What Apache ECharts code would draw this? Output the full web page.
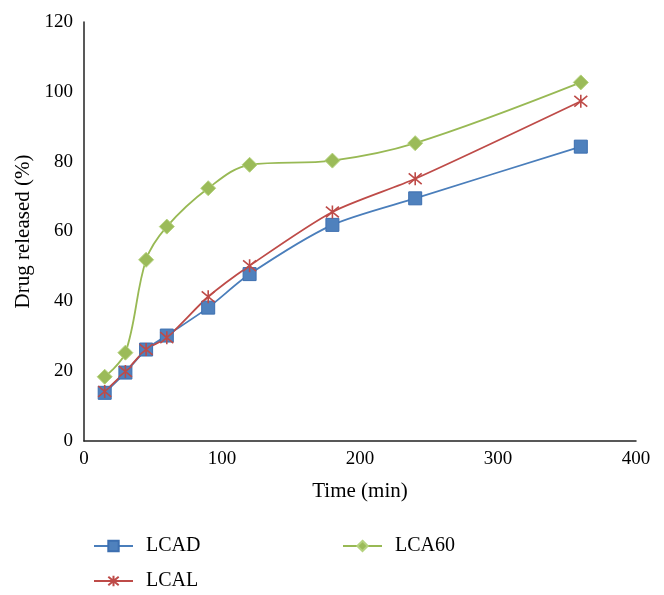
<!DOCTYPE html>
<html>
<head>
<meta charset="utf-8">
<script src="https://cdn.jsdelivr.net/npm/echarts@6/dist/echarts.min.js"></script>
<style>html,body{margin:0;padding:0;background:#fff;}#c{width:664px;height:595px;}</style>
</head>
<body>
<div id="c"></div>
<script>
const times = [15, 30, 45, 60, 90, 120, 180, 240, 360];
const lcad = [13.8, 19.6, 26.2, 30.2, 38.2, 47.8, 61.9, 69.5, 84.3];
const lcal = [14.2, 19.9, 26.2, 29.6, 41.3, 50.2, 65.6, 75.1, 97.3];
const lca60 = [18.4, 25.3, 51.9, 61.4, 72.4, 79.1, 80.3, 85.3, 102.7];
const seriesNames = ['LCAD', 'LCAL', 'LCA60'];

const FONT = '"Liberation Serif", "DejaVu Serif", serif';
const pair = arr => times.map((t, i) => [t, arr[i]]);
const star = 'path://M0,0L10,10M10,0L0,10M5,-1L5,11';

const chart = echarts.init(document.getElementById('c'));
const legendBase = {
  itemWidth: 39, itemHeight: 13, itemGap: 40,
  textStyle: {fontFamily: FONT, fontSize: 20, color: '#000', padding: [0, 0, 0, 8]}
};
chart.setOption({
  animation: false,
  grid: {left: 84, right: 28, top: 22, bottom: 154},
  xAxis: {
    type: 'value', min: 0, max: 400, interval: 100,
    name: 'Time (min)', nameLocation: 'middle', nameGap: 40,
    nameTextStyle: {fontFamily: FONT, fontSize: 21, color: '#000'},
    axisLine: {show: true, onZero: false, lineStyle: {color: '#222', width: 1.5}},
    axisTick: {show: false},
    splitLine: {show: false},
    axisLabel: {fontFamily: FONT, fontSize: 19, color: '#000', margin: 9}
  },
  yAxis: {
    type: 'value', min: 0, max: 120, interval: 20,
    name: 'Drug released (%)', nameLocation: 'middle', nameGap: 49,
    nameTextStyle: {fontFamily: FONT, fontSize: 21, color: '#000'},
    axisLine: {show: true, lineStyle: {color: '#222', width: 1.5}},
    axisTick: {show: false},
    splitLine: {show: false},
    axisLabel: {fontFamily: FONT, fontSize: 19, color: '#000', margin: 11}
  },
  legend: [
    Object.assign({}, legendBase, {data: [seriesNames[0]], left: 88, top: 531}),
    Object.assign({}, legendBase, {data: [seriesNames[2]], left: 337, top: 531}),
    Object.assign({}, legendBase, {data: [seriesNames[1]], left: 88, top: 566})
  ],
  series: [
    {
      name: seriesNames[0], type: 'line', data: pair(lcad), smooth: 0.25,
      symbol: 'rect', symbolSize: 13,
      lineStyle: {color: '#4A7EBB', width: 1.8},
      itemStyle: {color: '#4F81BD', borderColor: '#3D6FB0', borderWidth: 1}
    },
    {
      name: seriesNames[1], type: 'line', data: pair(lcal), smooth: 0.25,
      symbol: star, symbolSize: 13,
      lineStyle: {color: '#BE4B48', width: 1.8},
      itemStyle: {color: '#BE4B48', borderColor: '#BE4B48', borderWidth: 1.6}
    },
    {
      name: seriesNames[2], type: 'line', data: pair(lca60), smooth: 0.35,
      symbol: 'diamond', symbolSize: 15,
      lineStyle: {color: '#98B954', width: 1.8},
      itemStyle: {color: '#9BBB59', borderColor: '#B5D27E', borderWidth: 1}
    }
  ]
});
</script>
</body>
</html>
